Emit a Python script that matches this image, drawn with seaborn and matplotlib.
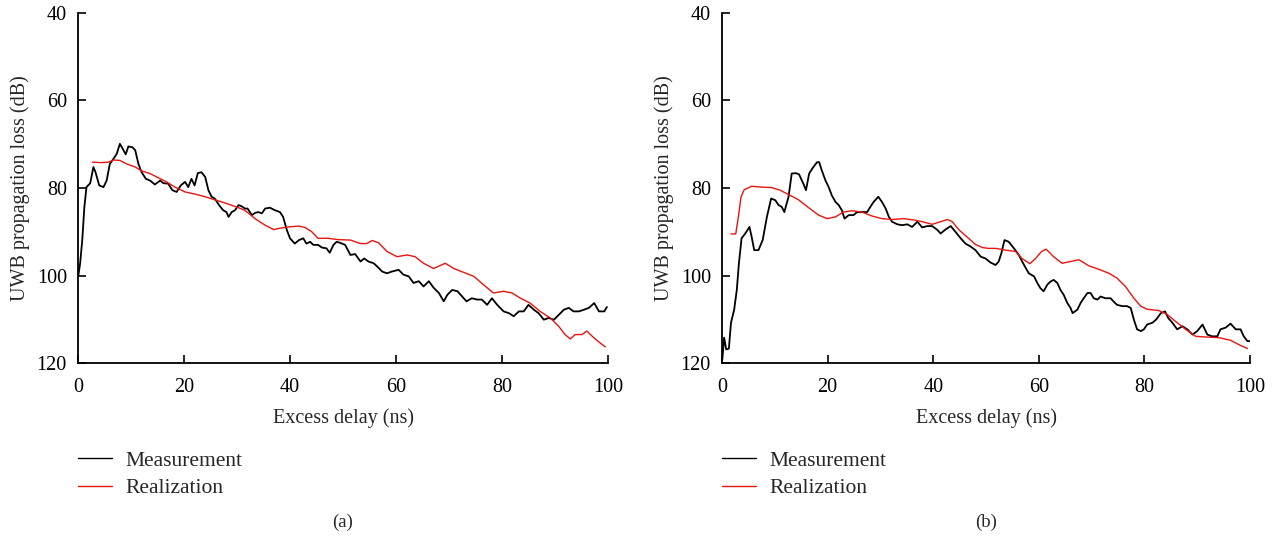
import numpy as np
import pandas as pd
import seaborn as sns
import matplotlib.pyplot as plt

# panel (a) measurement
meas_a_x = [0.06, 0.4, 0.8, 1.2, 1.6, 2.3, 2.9, 3.3, 4.0, 4.8, 5.4, 6.0, 6.7, 7.3, 7.9, 8.6, 9.0, 9.5,
            10.3, 10.8, 11.4, 12.0, 12.8, 13.6, 14.5, 15.5, 16.1, 17.0, 17.8, 18.6, 19.4, 20.2, 20.8,
            21.4, 22.0, 22.6, 23.3, 24.0, 24.6, 25.2, 25.8, 26.6, 27.4, 28.0, 28.4, 29.0, 29.6, 30.3,
            30.9, 31.5, 32.0, 32.8, 33.4, 34.0, 34.7, 35.3, 36.2, 37.2, 38.1, 38.7, 39.4, 40.0, 40.9,
            41.7, 42.5, 43.1, 43.8, 44.4, 45.3, 46.0, 46.9, 47.5, 48.2, 48.8, 49.4, 50.4, 51.4, 52.3,
            53.3, 54.0, 54.8, 55.8, 56.5, 57.4, 58.3, 59.2, 60.5, 61.4, 62.4, 63.3, 64.3, 65.2, 66.2,
            67.1, 68.1, 69.0, 69.7, 70.6, 71.6, 72.5, 73.3, 74.3, 75.3, 76.2, 77.2, 78.1, 79.1, 80.3,
            81.3, 82.2, 83.2, 84.1, 85.0, 86.0, 86.9, 87.9, 88.8, 89.8, 90.7, 91.7, 92.6, 93.5, 94.5,
            95.5, 96.4, 97.4, 98.3, 99.3, 99.8]
meas_a_y = [100.0, 97.2, 91.9, 84.3, 79.8, 78.9, 75.2, 76.4, 79.4, 79.8, 78.3, 74.5, 73.3, 72.2, 69.9,
            71.4, 72.3, 70.5, 70.7, 71.4, 74.5, 76.4, 77.9, 78.3, 79.2, 78.3, 78.9, 79.0, 80.5, 80.9,
            79.4, 78.6, 79.8, 77.9, 79.4, 76.6, 76.4, 77.5, 80.5, 82.0, 82.4, 83.9, 85.1, 85.5, 86.6,
            85.5, 85.1, 83.9, 84.2, 84.7, 84.7, 86.2, 85.7, 85.5, 85.8, 84.7, 84.5, 85.1, 85.5, 86.6,
            89.6, 91.5, 92.7, 91.9, 91.5, 92.7, 92.3, 93.0, 93.0, 93.6, 93.8, 94.8, 93.0, 92.3, 92.5,
            93.0, 95.3, 95.1, 96.8, 96.1, 96.8, 97.2, 98.0, 99.1, 99.5, 99.1, 98.7, 99.8, 100.2, 101.7,
            101.3, 102.5, 101.3, 102.8, 104.0, 105.9, 104.4, 103.3, 103.6, 104.8, 105.9, 105.2, 105.5,
            105.5, 106.7, 105.2, 106.7, 108.2, 108.6, 109.3, 108.2, 108.2, 106.7, 107.8, 108.6, 110.1,
            109.7, 110.1, 109.0, 107.8, 107.4, 108.2, 108.2, 107.8, 107.4, 106.3, 108.2, 108.2, 107.2]

# panel (a) realization
real_a_x = [2.7, 4.5, 5.7, 6.7, 7.9, 9.2, 10.8, 12.0, 13.6, 15.2, 16.7, 18.3, 20.2, 22.1, 24.0, 25.8,
            27.7, 29.6, 31.5, 33.4, 35.3, 36.9, 38.1, 39.7, 41.6, 42.8, 44.1, 45.3, 47.2, 49.1, 51.4,
            53.3, 54.5, 55.5, 56.7, 58.3, 60.2, 62.1, 63.6, 65.2, 67.1, 69.3, 70.9, 72.8, 74.7, 76.5,
            78.4, 80.3, 81.9, 83.5, 85.3, 87.2, 89.1, 90.7, 91.9, 92.9, 93.8, 95.1, 96.0, 97.3, 98.5,
            99.5]
real_a_y = [74.1, 74.2, 74.1, 73.6, 73.7, 74.5, 75.2, 76.1, 76.7, 77.7, 78.6, 79.8, 80.9, 81.4, 82.0,
            82.7, 83.4, 84.2, 85.1, 87.0, 88.5, 89.5, 89.2, 88.9, 88.7, 89.0, 90.0, 91.5, 91.5, 91.8,
            91.9, 92.7, 92.7, 92.0, 92.5, 94.5, 95.7, 95.3, 95.7, 97.2, 98.4, 97.2, 98.4, 99.3, 100.2,
            102.1, 104.0, 103.6, 104.0, 105.2, 106.3, 108.2, 109.7, 111.6, 113.5, 114.5, 113.5, 113.5,
            112.7, 114.2, 115.4, 116.3]

# panel (b) measurement
meas_b_x = [0.06, 0.4, 0.8, 1.3, 1.7, 2.3, 2.8, 3.2, 3.7, 4.4, 5.2, 5.6, 6.1, 6.9, 7.7, 8.5, 9.3, 10.1,
            10.7, 11.3, 11.8, 12.6, 13.2, 14.0, 14.6, 15.4, 15.9, 16.5, 17.3, 18.0, 18.4, 18.9, 19.6,
            20.2, 20.8, 21.5, 22.1, 22.7, 23.2, 24.0, 24.9, 25.6, 26.5, 27.5, 28.1, 28.7, 29.6, 30.3,
            31.0, 31.6, 32.2, 33.2, 34.1, 35.1, 36.0, 37.0, 37.9, 38.9, 39.8, 40.8, 41.4, 42.3, 43.3,
            44.2, 45.2, 46.1, 47.1, 48.0, 49.0, 49.9, 50.8, 51.8, 52.4, 52.9, 53.5, 54.3, 55.3, 56.2,
            57.2, 58.1, 59.1, 59.7, 60.3, 60.9, 61.6, 62.2, 62.8, 63.5, 64.1, 64.7, 65.4, 66.0, 66.4,
            67.3, 67.9, 68.5, 69.2, 69.8, 70.4, 71.1, 71.7, 72.6, 73.6, 74.2, 74.8, 75.8, 76.7, 77.4,
            78.0, 78.6, 79.3, 79.9, 80.5, 81.5, 82.2, 83.1, 83.9, 84.5, 85.3, 86.2, 87.2, 88.1, 89.1,
            90.0, 91.0, 91.9, 92.8, 93.8, 94.4, 95.4, 96.3, 97.3, 98.2, 98.8, 99.5, 100.0]
meas_b_y = [119.2, 114.2, 116.9, 116.7, 110.8, 107.8, 103.3, 97.2, 91.5, 90.4, 88.9, 91.1, 94.2, 94.2,
            91.9, 86.6, 82.4, 82.8, 83.9, 84.3, 85.5, 82.0, 76.7, 76.6, 76.9, 79.0, 80.5, 76.7, 75.2,
            74.1, 74.1, 76.0, 78.3, 79.8, 81.7, 83.2, 83.9, 85.1, 87.0, 86.2, 86.2, 85.5, 85.5, 85.5,
            84.3, 83.2, 82.0, 83.2, 84.7, 86.6, 87.7, 88.3, 88.5, 88.3, 88.9, 87.7, 89.0, 88.7, 88.7,
            89.6, 90.4, 89.5, 88.7, 90.0, 91.5, 92.7, 93.4, 94.2, 95.7, 96.1, 97.0, 97.6, 96.8, 94.9,
            91.9, 92.3, 93.8, 95.3, 97.6, 99.5, 100.2, 101.7, 102.9, 103.6, 102.1, 101.4, 101.0, 101.7,
            103.3, 104.4, 106.3, 107.4, 108.6, 107.8, 106.3, 105.2, 104.0, 104.0, 105.2, 105.5, 104.8,
            105.2, 105.2, 106.0, 106.7, 107.0, 107.0, 107.4, 110.1, 112.3, 112.7, 112.3, 111.2, 110.8,
            110.1, 108.6, 108.2, 109.7, 110.8, 112.3, 111.6, 112.3, 113.5, 112.7, 111.2, 113.5, 113.9,
            113.9, 112.3, 111.9, 111.0, 112.3, 112.3, 113.9, 115.0, 115.0]

# panel (b) realization
real_b_x = [1.7, 2.6, 3.1, 3.6, 4.2, 5.6, 7.5, 9.4, 11.0, 12.6, 14.5, 16.4, 18.3, 19.9, 21.5, 23.0,
            24.6, 26.5, 28.4, 30.3, 32.2, 34.4, 36.3, 37.9, 39.8, 41.4, 42.7, 43.6, 44.9, 46.5, 48.0,
            49.3, 50.4, 51.8, 53.7, 55.6, 56.8, 58.3, 59.4, 60.5, 61.4, 62.8, 64.4, 66.0, 67.6, 69.5,
            71.4, 73.3, 74.8, 76.4, 78.0, 79.3, 80.5, 82.7, 84.3, 85.9, 87.8, 89.7, 92.2, 94.1, 96.3,
            97.9, 99.5]
real_b_y = [90.5, 90.5, 86.6, 82.0, 80.4, 79.6, 79.8, 79.9, 80.5, 81.5, 82.7, 84.5, 86.2, 87.0, 86.6,
            85.5, 85.2, 85.5, 86.4, 87.0, 87.2, 87.0, 87.3, 87.7, 88.3, 87.7, 87.2, 87.7, 89.6, 91.3,
            92.9, 93.6, 93.8, 93.8, 94.2, 94.5, 96.1, 97.3, 96.1, 94.5, 94.0, 95.7, 97.2, 96.8, 96.4,
            97.8, 98.6, 99.5, 100.6, 102.5, 105.2, 107.0, 107.7, 108.0, 108.9, 110.5, 112.3, 113.9,
            114.1, 114.2, 114.8, 115.8, 116.7]

x_ticks = [0, 20, 40, 60, 80, 100]
y_ticks = [40, 60, 80, 100, 120]
series_names = ["Measurement", "Realization"]
panel_labels = ["(a)", "(b)"]


def make_frame(mx, my, rx, ry):
    return pd.concat([
        pd.DataFrame({"delay": mx, "loss": my, "series": series_names[0]}),
        pd.DataFrame({"delay": rx, "loss": ry, "series": series_names[1]}),
    ], ignore_index=True)


frames = [make_frame(meas_a_x, meas_a_y, real_a_x, real_a_y),
          make_frame(meas_b_x, meas_b_y, real_b_x, real_b_y)]

sns.set_style("ticks")
plt.rcParams['font.family'] = ['Liberation Serif', 'DejaVu Serif']

fig = plt.figure(figsize=(12.77, 5.39), dpi=100)
axes = [fig.add_axes([0.0611, 0.3265, 0.4150, 0.6494]),
        fig.add_axes([0.5654, 0.3265, 0.4135, 0.6494])]

palette = {series_names[0]: "black", series_names[1]: "#e8140f"}

for ax, df, lab in zip(axes, frames, panel_labels):
    sns.lineplot(data=df, x="delay", y="loss", hue="series", palette=palette,
                 estimator=None, sort=False, linewidth=1.3, ax=ax)
    ax.get_lines()[1].set_linewidth(1.0)
    ax.set_xlim(0, 100)
    ax.set_ylim(120, 40)
    ax.set_xticks(x_ticks)
    ax.set_yticks(y_ticks)
    ax.tick_params(direction="in", length=6, width=1.2, labelsize=14.5, colors="black")
    ax.tick_params(axis="x", pad=11)
    ax.tick_params(axis="y", pad=8)
    for s in ["left", "bottom"]:
        ax.spines[s].set_linewidth(1.3)
        ax.spines[s].set_color("black")
    sns.despine(ax=ax)
    ax.set_xlabel("Excess delay (ns)", fontsize=14.5, labelpad=8)
    ax.set_ylabel("UWB propagation loss (dB)", fontsize=14.5, labelpad=5)
    leg = ax.legend(loc="upper left", bbox_to_anchor=(0.0, -0.25), frameon=False,
                    borderaxespad=0, borderpad=0, handlelength=1.6, handletextpad=0.6,
                    labelspacing=0.36, fontsize=15.5)
    for h in leg.get_lines():
        h.set_linewidth(1.0)
    pos = ax.get_position()
    fig.text(pos.x0 + pos.width / 2, 1 - 522 / 539, lab, ha="center", va="center", fontsize=13.5)

fig.savefig("out.png", dpi=100)
